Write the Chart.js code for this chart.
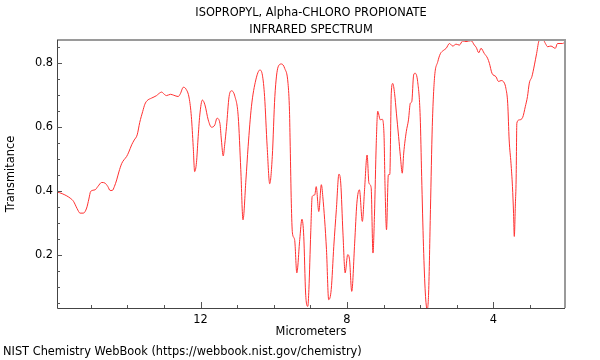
<!DOCTYPE html>
<html><head><meta charset="utf-8">
<script src="https://cdn.jsdelivr.net/npm/chart.js@4"></script>
<style>html,body{margin:0;padding:0;background:#fff}#wrap{width:600px;height:360px}</style>
</head><body><div id="wrap"><canvas id="c" width="600" height="360"></canvas></div>
<script>
const titleLines = ['ISOPROPYL, Alpha-CHLORO PROPIONATE', 'INFRARED SPECTRUM'];
const xAxisTitle = 'Micrometers';
const yAxisTitle = 'Transmitance';
const footerText = 'NIST Chemistry WebBook (https://webbook.nist.gov/chemistry)';

const xTickLabels = [12, 8, 4];
const xMinorTicks = [3, 4, 5, 6, 7, 8, 9, 10, 11, 12, 13, 14, 15];
const yTickLabels = [0.2, 0.4, 0.6, 0.8];
const yMinorTicks = [0.05, 0.1, 0.15, 0.2, 0.25, 0.3, 0.35, 0.4, 0.45, 0.5, 0.55, 0.6, 0.65, 0.7, 0.75, 0.8, 0.85];

const wavelengthUm = [
15.91, 15.78, 15.56, 15.47, 15.37, 15.29, 15.20, 15.11, 15.05, 15.00,
14.88, 14.80, 14.70, 14.61, 14.53, 14.47, 14.41, 14.35, 14.29, 14.23,
14.15, 14.09, 14.02, 13.96, 13.88, 13.81, 13.73, 13.66, 13.58, 13.52,
13.46, 13.34, 13.20, 13.14, 13.06, 13.00, 12.93, 12.82, 12.73, 12.61,
12.55, 12.47, 12.40, 12.31, 12.25, 12.20, 12.16, 12.11, 12.07, 12.02,
11.95, 11.88, 11.79, 11.70, 11.61, 11.55, 11.47, 11.43, 11.38, 11.34,
11.29, 11.22, 11.15, 11.06, 10.97, 10.90, 10.84, 10.76, 10.70, 10.61,
10.49, 10.38, 10.31, 10.25, 10.18, 10.11, 10.04, 9.97, 9.88, 9.79,
9.70, 9.61, 9.57, 9.55, 9.52, 9.49, 9.43, 9.37, 9.29, 9.23,
9.18, 9.13, 9.07, 9.04, 8.99, 8.95, 8.88, 8.84, 8.77, 8.70,
8.66, 8.56, 8.50, 8.43, 8.36, 8.29, 8.22, 8.17, 8.11, 8.05,
7.98, 7.93, 7.87, 7.79, 7.73, 7.66, 7.58, 7.52, 7.45, 7.40,
7.34, 7.29, 7.25, 7.20, 7.16, 7.09, 7.04, 6.99, 6.96, 6.92,
6.87, 6.83, 6.79, 6.75, 6.70, 6.65, 6.59, 6.54, 6.49, 6.45,
6.38, 6.32, 6.27, 6.23, 6.18, 6.14, 6.07, 6.00, 5.96, 5.91,
5.86, 5.81, 5.77, 5.72, 5.67, 5.61, 5.52, 5.45, 5.37, 5.29,
5.20, 5.11, 5.02, 4.93, 4.84, 4.75, 4.61, 4.52, 4.47, 4.40,
4.34, 4.25, 4.16, 4.11, 4.04, 3.93, 3.86, 3.79, 3.70, 3.66,
3.61, 3.57, 3.52, 3.48, 3.45, 3.43, 3.40, 3.38, 3.36, 3.29,
3.20, 3.13, 3.07, 3.02, 2.95, 2.88, 2.82, 2.75, 2.64, 2.58,
2.52, 2.43, 2.31, 2.25, 2.11, 2.04
];

const transmittance = [
0.397, 0.392, 0.378, 0.368, 0.345, 0.331, 0.331, 0.347, 0.375, 0.399,
0.404, 0.415, 0.427, 0.425, 0.414, 0.402, 0.402, 0.415, 0.435, 0.460,
0.487, 0.498, 0.508, 0.522, 0.545, 0.560, 0.576, 0.615, 0.649, 0.672,
0.683, 0.691, 0.699, 0.705, 0.710, 0.704, 0.699, 0.703, 0.700, 0.696,
0.705, 0.725, 0.720, 0.691, 0.633, 0.540, 0.461, 0.490, 0.560, 0.638,
0.685, 0.670, 0.623, 0.600, 0.607, 0.628, 0.612, 0.560, 0.510, 0.545,
0.602, 0.696, 0.714, 0.696, 0.633, 0.467, 0.310, 0.435, 0.539, 0.664,
0.748, 0.779, 0.763, 0.696, 0.539, 0.423, 0.508, 0.696, 0.789, 0.798,
0.784, 0.737, 0.650, 0.539, 0.362, 0.269, 0.248, 0.144, 0.248, 0.312,
0.258, 0.081, 0.039, 0.092, 0.269, 0.383, 0.388, 0.414, 0.336, 0.420,
0.383, 0.217, 0.060, 0.092, 0.227, 0.342, 0.453, 0.425, 0.269, 0.144,
0.201, 0.185, 0.086, 0.237, 0.362, 0.404, 0.305, 0.404, 0.513, 0.425,
0.411, 0.206, 0.321, 0.550, 0.650, 0.623, 0.625, 0.581, 0.414, 0.279,
0.451, 0.452, 0.706, 0.737, 0.706, 0.644, 0.571, 0.508, 0.456, 0.519,
0.586, 0.623, 0.675, 0.680, 0.763, 0.769, 0.743, 0.633, 0.446, 0.227,
0.081, 0.030, 0.081, 0.342, 0.602, 0.753, 0.805, 0.830, 0.840, 0.847,
0.862, 0.854, 0.860, 0.857, 0.870, 0.868, 0.871, 0.857, 0.850, 0.833,
0.847, 0.831, 0.816, 0.800, 0.769, 0.758, 0.743, 0.746, 0.738, 0.722,
0.675, 0.560, 0.487, 0.414, 0.330, 0.258, 0.360, 0.435, 0.613, 0.623,
0.631, 0.664, 0.696, 0.738, 0.758, 0.795, 0.831, 0.871, 0.873, 0.862,
0.852, 0.854, 0.847, 0.862, 0.862, 0.868
];

const FONT = '"DejaVu Sans", "Liberation Sans", sans-serif';
const FSIZE = 11.4;

const decor = {
  id: 'decor',
  afterDatasetsDraw(chart) {
    const ctx = chart.ctx, a = chart.chartArea, xs = chart.scales.x, ys = chart.scales.y;
    const L = Math.round(a.left), R = Math.round(a.right), T = Math.round(a.top), B = Math.round(a.bottom);
    ctx.save();
    // frame
    ctx.lineWidth = 2; ctx.strokeStyle = '#9a9a9a';
    ctx.beginPath(); ctx.moveTo(L, T); ctx.lineTo(R, T); ctx.lineTo(R, B); ctx.stroke();
    ctx.lineWidth = 1; ctx.strokeStyle = '#444';
    ctx.beginPath(); ctx.moveTo(L + 0.5, T); ctx.lineTo(L + 0.5, B + 0.5); ctx.lineTo(R, B + 0.5); ctx.stroke();
    // inward ticks
    ctx.strokeStyle = '#555';
    xMinorTicks.forEach(v => {
      const px = Math.round(xs.getPixelForValue(v)) + 0.5;
      const len = xTickLabels.includes(v) ? 6 : 3;
      ctx.beginPath(); ctx.moveTo(px, B); ctx.lineTo(px, B - len); ctx.stroke();
    });
    yMinorTicks.forEach(v => {
      const py = Math.round(ys.getPixelForValue(v)) + 0.5;
      const major = yTickLabels.some(m => Math.abs(m - v) < 1e-6);
      const len = major ? 5 : 3;
      ctx.beginPath(); ctx.moveTo(L, py); ctx.lineTo(L + len, py); ctx.stroke();
    });
    // texts
    ctx.fillStyle = '#000';
    ctx.font = FSIZE + 'px ' + FONT;
    ctx.textAlign = 'center'; ctx.textBaseline = 'middle';
    const cx = (a.left + a.right) / 2;
    ctx.fillText(titleLines[0], cx, T - 27);
    ctx.fillText(titleLines[1], cx, T - 10);
    ctx.fillText(xAxisTitle, cx, B + 24);
    ctx.save();
    ctx.translate(11, (a.top + a.bottom) / 2);
    ctx.rotate(-Math.PI / 2);
    ctx.fillText(yAxisTitle, 0, 0);
    ctx.restore();
    ctx.textAlign = 'left';
    ctx.fillText(footerText, 3, 352);
    ctx.restore();
  }
};

new Chart(document.getElementById('c'), {
  type: 'line',
  data: {
    datasets: [{
      data: wavelengthUm.map((w, i) => ({ x: w, y: transmittance[i] })),
      borderColor: '#ff3030',
      borderWidth: 1,
      pointRadius: 0,
      cubicInterpolationMode: 'monotone',
      fill: false
    }]
  },
  options: {
    responsive: false,
    animation: false,
    devicePixelRatio: 1,
    layout: { padding: { left: 0, right: 35, top: 40, bottom: 22 } },
    plugins: { legend: { display: false }, title: { display: false }, tooltip: { enabled: false } },
    scales: {
      x: {
        type: 'linear', reverse: true, min: 2.045, max: 15.92,
        afterBuildTicks: s => { s.ticks = xTickLabels.map(v => ({ value: v })); },
        afterFit: s => { s.height = 30; },
        grid: { display: false, drawTicks: false },
        border: { display: false },
        ticks: { color: '#000', font: { family: FONT, size: FSIZE }, padding: 5, maxRotation: 0,
                 callback: v => String(v) }
      },
      y: {
        type: 'linear', min: 0.034, max: 0.873,
        afterBuildTicks: s => { s.ticks = yTickLabels.map(v => ({ value: v })); },
        afterFit: s => { s.width = 57; },
        grid: { display: false, drawTicks: false },
        border: { display: false },
        ticks: { color: '#000', font: { family: FONT, size: FSIZE }, padding: 4,
                 callback: v => Number(v).toFixed(1) }
      }
    }
  },
  plugins: [decor]
});
</script>
</body></html>
